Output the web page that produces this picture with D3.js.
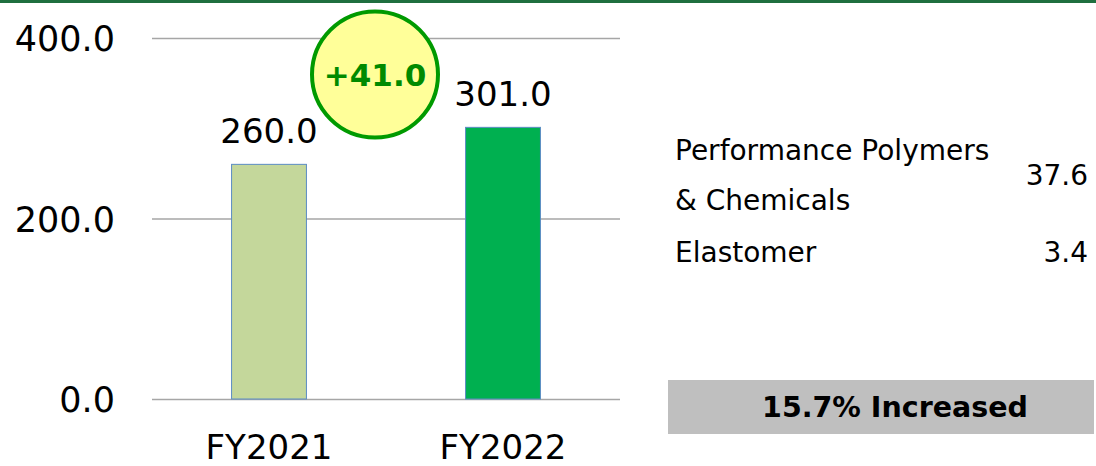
<!DOCTYPE html>
<meta charset="utf-8">
<style>
body { margin: 0; background: #fff; }
text { font-family: "DejaVu Sans", Verdana, sans-serif; }
</style>
<svg width="1096" height="466"></svg>
<script src="https://cdn.jsdelivr.net/npm/d3@7/dist/d3.min.js"></script>
<script>
// data
var years = ["FY2021", "FY2022"];
var sales = [260.0, 301.0];
var barColors = ["#c4d79b", "#00b050"];
var yTicks = [0, 200, 400];
var diffLabel = "+41.0";
var segments = ["Performance Polymers\n& Chemicals", "Elastomer"];
var segmentValues = [37.6, 3.4];
var summary = "15.7% Increased";

var svg = d3.select("svg");

// top rule
svg.append("rect").attr("x", 0).attr("y", 0).attr("width", 1096).attr("height", 3)
    .attr("fill", "#1f6f3f");

var x = d3.scaleBand().domain(years).range([152, 620]).paddingInner(0.68).paddingOuter(0.34);
var y = d3.scaleLinear().domain([0, 400]).range([399, 38]);

// gridlines
svg.append("g").selectAll("line").data(yTicks).join("line")
    .attr("x1", 152).attr("x2", 620)
    .attr("y1", d => y(d) + 0.5).attr("y2", d => y(d) + 0.5)
    .attr("stroke", "#a6a6a6").attr("stroke-width", 1.3);

// y axis labels
var yAxis = svg.append("g").attr("transform", "translate(115,0)")
    .call(d3.axisLeft(y).tickValues(yTicks).tickFormat(d3.format(".1f")).tickSize(0).tickPadding(0));
yAxis.select(".domain").remove();
yAxis.selectAll("text").attr("font-size", 35).attr("fill", "#000")
    .attr("font-family", "DejaVu Sans").attr("dy", "0.36em");

// bars
svg.append("g").selectAll("rect").data(years).join("rect")
    .attr("x", d => x(d))
    .attr("y", (d, i) => y(sales[i]))
    .attr("width", x.bandwidth())
    .attr("height", (d, i) => y(0) - y(sales[i]))
    .attr("fill", (d, i) => barColors[i])
    .attr("stroke", "#5b8cc4").attr("stroke-width", 1);

// value labels
svg.append("g").selectAll("text").data(years).join("text")
    .attr("x", d => x(d) + x.bandwidth() / 2)
    .attr("y", (d, i) => y(sales[i]) - 21)
    .attr("text-anchor", "middle").attr("font-size", 34).attr("fill", "#000")
    .text((d, i) => d3.format(".1f")(sales[i]));

// category labels
svg.append("g").selectAll("text").data(years).join("text")
    .attr("x", d => x(d) + x.bandwidth() / 2)
    .attr("y", 459)
    .attr("text-anchor", "middle").attr("font-size", 34).attr("fill", "#000")
    .text(d => d);

// difference bubble
var bubble = svg.append("g").attr("transform", "translate(375,74.5)");
bubble.append("circle").attr("r", 63).attr("fill", "#ffff99")
    .attr("stroke", "#009a00").attr("stroke-width", 4);
bubble.append("text").attr("text-anchor", "middle").attr("dy", "0.36em")
    .attr("font-size", 31).attr("font-weight", "bold").attr("fill", "#008a00")
    .text(diffLabel);

// segment breakdown
var segG = svg.append("g");
var rowY = [160, 262];
segments.forEach(function(s, i) {
  var lines = s.split("\n");
  var t = segG.append("text").attr("x", 675).attr("y", rowY[i])
      .attr("font-size", 28).attr("fill", "#000");
  lines.forEach(function(l, j) {
    t.append("tspan").attr("x", 675).attr("dy", j === 0 ? 0 : 50).text(l);
  });
  segG.append("text").attr("x", 1088)
      .attr("y", rowY[i] + (lines.length - 1) * 25)
      .attr("text-anchor", "end").attr("font-size", 28).attr("fill", "#000")
      .text(d3.format(".1f")(segmentValues[i]));
});

// summary box
svg.append("rect").attr("x", 668).attr("y", 380).attr("width", 426).attr("height", 54)
    .attr("fill", "#bfbfbf");
svg.append("text").attr("x", 895).attr("y", 407).attr("dy", "0.36em")
    .attr("text-anchor", "middle").attr("font-size", 28.5).attr("font-weight", "bold")
    .attr("fill", "#000").text(summary);
</script>
